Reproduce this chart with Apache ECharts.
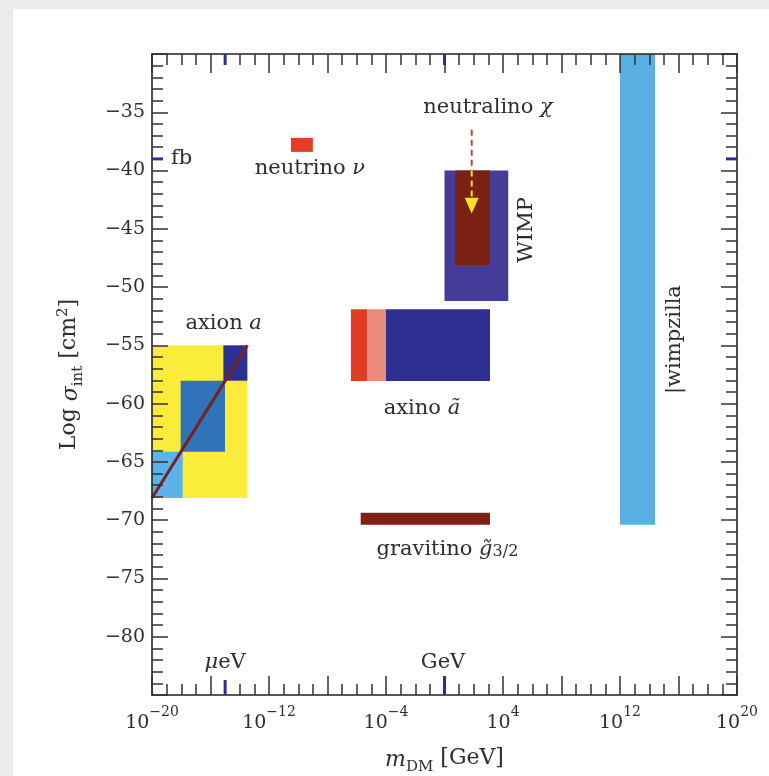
<!DOCTYPE html>
<html>
<head>
<meta charset="utf-8">
<script src="https://cdn.jsdelivr.net/npm/echarts@6/dist/echarts.min.js"></script>
<style>
html,body{margin:0;padding:0;background:#ebebea;}
#chart{position:absolute;left:0;top:0;width:769px;height:776px;}
</style>
</head>
<body>
<div id="chart"></div>
<script>
// ---------- data (log10 mass in GeV on x, log10 sigma in cm^2 on y) ----------
const rectNames = ['axion', 'axionMid', 'axionLow', 'axionHigh', 'neutrino', 'wimp', 'wimpCore',
                   'axinoA', 'axinoB', 'axinoC', 'gravitino', 'wimpzilla'];
const rectXMin  = [-20,    -18.04, -20,    -15.12, -10.5,  0.0,   0.72,  -6.4,  -5.3,  -4.0,  -5.73, 12.0];
const rectXMax  = [-13.48, -15.01, -17.9,  -13.48, -9.0,   4.36,  3.11,  -5.3,  -4.0,   3.11,  3.11, 14.4];
const rectYMin  = [-68.1,  -64.12, -68.1,  -58.03, -38.4, -51.2, -48.1, -58.06, -58.06, -58.06, -70.4, -70.4];
const rectYMax  = [-55.0,  -58.03, -64.12, -55.0,  -37.2, -40.0, -40.0, -51.9, -51.9, -51.9, -69.36, -30];

const axionLineX = [-20, -13.48];
const axionLineY = [-68.1, -55.0];

const arrowX = 1.86;
const arrowYStart = -36.5;
const arrowYEnd = -43.7;

const xSpecialTicks = [-15, 0];   // μeV, GeV
const ySpecialTicks = [-39];      // fb

const xLabelExps = [-20, -12, -4, 4, 12, 20];
const yLabelValues = [-35, -40, -45, -50, -55, -60, -65, -70, -75, -80];

const noteText = ['fb', 'neutrino {i|ν}', 'neutralino {i|χ}', 'WIMP', 'axion {i|a}', 'axino {i|ã}',
                  'gravitino {i|g̃}{sub|3/2}', '|wimpzilla', '{i|μ}eV', 'GeV'];
const noteX = [-18.7, -9.2, 2.97, 5.64, -15.1, -1.54, 0.2, 15.7, -15.0, -0.1];
const noteY = [-39.0, -39.8, -34.6, -45.1, -53.1, -60.4, -72.5, -54.5, -82.2, -82.2];

// ---------- styles ----------
const rectColors = {
  axion: '#fbeb3a', axionMid: '#2f74b8', axionLow: '#5cb3ea', axionHigh: '#2b2f8f',
  neutrino: '#e23d25', wimp: '#463b97', wimpCore: '#7a2113',
  axinoA: '#e03c24', axinoB: '#e98a7f', axinoC: '#2c2f8f', gravitino: '#7a2213', wimpzilla: '#5aafe2'
};
const noteAlign = ['left', 'center', 'center', 'center', 'center', 'center', 'center', 'center', 'center', 'center'];
const noteRot = [0, 0, 0, Math.PI / 2, 0, 0, 0, Math.PI / 2, 0, 0];

const FONT = '"DejaVu Serif", "Liberation Serif", serif';
const TXT = '#2e2e2e';
const NOTE_SIZE = 21;
const richBase = {
  i: { fontFamily: FONT, fontSize: NOTE_SIZE, fontStyle: 'italic', fill: TXT, color: TXT },
  sub: { fontFamily: FONT, fontSize: 16, fill: TXT, color: TXT, verticalAlign: 'bottom', lineHeight: 12, padding: [9, 0, 0, 0] }
};

const chart = echarts.init(document.getElementById('chart'), null, { renderer: 'canvas' });

const tickLine = { color: '#333', width: 1.5 };
function makeX(pos, labels) {
  return {
    type: 'value', min: -20, max: 20, interval: 4, position: pos, z: 10,
    axisLine: { show: true, onZero: false, lineStyle: { color: '#222', width: 1.6 } },
    axisTick: { show: true, inside: true, length: 19, lineStyle: tickLine },
    minorTick: { show: true, splitNumber: 4, length: 11, lineStyle: tickLine },
    splitLine: { show: false },
    axisLabel: labels ? {
      show: true, margin: 10,
      formatter: v => xLabelExps.includes(v) ? '{b|10}{s|' + (v < 0 ? '−' + Math.abs(v) : v) + '}' : '',
      rich: {
        b: { fontFamily: FONT, fontSize: 19, color: TXT, lineHeight: 28, verticalAlign: 'bottom' },
        s: { fontFamily: FONT, fontSize: 14, color: TXT, lineHeight: 28, verticalAlign: 'top' }
      }
    } : { show: false },
    name: labels ? '{i|m}{sub|DM} [GeV]' : '',
    nameLocation: 'middle', nameGap: 50,
    nameTextStyle: {
      fontFamily: FONT, fontSize: 22, color: TXT,
      rich: {
        i: { fontFamily: FONT, fontSize: 22, fontStyle: 'italic', color: TXT, lineHeight: 26, verticalAlign: 'bottom' },
        sub: { fontFamily: FONT, fontSize: 15, color: TXT, lineHeight: 26, verticalAlign: 'bottom', padding: [0, 0, -4, 0] }
      }
    }
  };
}
function makeY(pos, labels) {
  return {
    type: 'value', min: -85, max: -30, interval: 5, position: pos, z: 10,
    axisLine: { show: true, onZero: false, lineStyle: { color: '#222', width: 1.6 } },
    axisTick: { show: true, inside: true, length: 16, lineStyle: tickLine },
    minorTick: { show: true, splitNumber: 5, length: 11, lineStyle: tickLine },
    splitLine: { show: false },
    axisLabel: labels ? {
      show: true, margin: 7, fontFamily: FONT, fontSize: 19, color: TXT,
      formatter: v => yLabelValues.includes(v) ? '−' + Math.abs(v) : ''
    } : { show: false },
    name: labels ? 'Log {i|σ}{sub|int} [cm{sup|2}]' : '',
    nameLocation: 'middle', nameGap: 70, nameRotate: 90,
    nameTextStyle: {
      fontFamily: FONT, fontSize: 22, color: TXT,
      rich: {
        i: { fontFamily: FONT, fontSize: 22, fontStyle: 'italic', color: TXT, lineHeight: 26, verticalAlign: 'bottom' },
        sub: { fontFamily: FONT, fontSize: 15, color: TXT, lineHeight: 26, verticalAlign: 'bottom', padding: [0, 0, -4, 0] },
        sup: { fontFamily: FONT, fontSize: 15, color: TXT, lineHeight: 26, verticalAlign: 'top' }
      }
    }
  };
}

const rectData = rectNames.map((n, i) => [rectXMin[i], rectXMax[i], rectYMin[i], rectYMax[i], i]);

const option = {
  backgroundColor: '#ebebea',
  animation: false,
  graphic: [{ type: 'rect', shape: { x: 13, y: 9, width: 760, height: 770 }, style: { fill: '#fff' }, z: -10 }],
  grid: { left: 152, right: 32, top: 54, bottom: 81, containLabel: false, outerBoundsMode: 'none' },
  xAxis: [makeX('bottom', true), makeX('top', false)],
  yAxis: [makeY('left', true), makeY('right', false)],
  series: [
    {
      type: 'custom', xAxisIndex: 0, yAxisIndex: 0, silent: true, z: 2,
      data: rectData,
      encode: { x: [0, 1], y: [2, 3] },
      renderItem: (params, api) => {
        const p0 = api.coord([api.value(0), api.value(3)]);
        const p1 = api.coord([api.value(1), api.value(2)]);
        const name = rectNames[api.value(4)];
        return { type: 'rect', shape: { x: p0[0], y: p0[1], width: p1[0] - p0[0], height: p1[1] - p0[1] },
                 style: { fill: rectColors[name] } };
      }
    },
    {
      type: 'line', xAxisIndex: 0, yAxisIndex: 0, silent: true, z: 3, symbol: 'none',
      data: axionLineX.map((x, i) => [x, axionLineY[i]]),
      lineStyle: { color: '#7a2020', width: 3 }
    },
    {
      type: 'custom', xAxisIndex: 0, yAxisIndex: 0, silent: true, z: 4,
      data: [[arrowX, arrowYStart, arrowYEnd]],
      renderItem: (params, api) => {
        const boxTop = rectYMax[rectNames.indexOf('wimp')];
        const a = api.coord([api.value(0), api.value(1)]);
        const b = api.coord([api.value(0), boxTop]);
        const tip = api.coord([api.value(0), api.value(2)]);
        const headH = 16, headW = 7;
        return { type: 'group', children: [
          { type: 'line', shape: { x1: a[0], y1: a[1], x2: b[0], y2: b[1] },
            style: { stroke: '#b04a3c', lineWidth: 2, lineDash: [6, 4] } },
          { type: 'line', shape: { x1: b[0], y1: b[1], x2: tip[0], y2: tip[1] - headH },
            style: { stroke: '#f5e22a', lineWidth: 2, lineDash: [6, 4] } },
          { type: 'polygon', shape: { points: [[tip[0] - headW, tip[1] - headH], [tip[0] + headW, tip[1] - headH], [tip[0], tip[1]]] },
            style: { fill: '#f5e22a' } }
        ] };
      }
    },
    {
      type: 'custom', xAxisIndex: 0, yAxisIndex: 0, silent: true, z: 50,
      data: xSpecialTicks.map(v => [v]).concat(ySpecialTicks.map(v => [null, v])),
      renderItem: (params, api) => {
        const style = { stroke: '#2b2f9a', lineWidth: 3 };
        if (params.dataIndex < xSpecialTicks.length) {
          const v = xSpecialTicks[params.dataIndex];
          const bot = api.coord([v, -85]), top = api.coord([v, -30]);
          const botLen = v === 0 ? 19 : 15;
          return { type: 'group', children: [
            { type: 'line', shape: { x1: bot[0], y1: bot[1], x2: bot[0], y2: bot[1] - botLen }, style },
            { type: 'line', shape: { x1: top[0], y1: top[1], x2: top[0], y2: top[1] + 11 }, style }
          ] };
        }
        const v = ySpecialTicks[params.dataIndex - xSpecialTicks.length];
        const l = api.coord([-20, v]), r = api.coord([20, v]);
        return { type: 'group', children: [
          { type: 'line', shape: { x1: l[0], y1: l[1], x2: l[0] + 11, y2: l[1] }, style },
          { type: 'line', shape: { x1: r[0], y1: r[1], x2: r[0] - 11, y2: r[1] }, style }
        ] };
      }
    },
    {
      type: 'custom', xAxisIndex: 0, yAxisIndex: 0, silent: true, z: 60,
      data: noteText.map((t, i) => [noteX[i], noteY[i], i]),
      renderItem: (params, api) => {
        const i = api.value(2);
        const p = api.coord([api.value(0), api.value(1)]);
        return { type: 'text', x: p[0], y: p[1], rotation: noteRot[i],
          style: { text: noteText[i], fontFamily: FONT, fontSize: NOTE_SIZE, fill: TXT,
                   align: noteAlign[i], verticalAlign: 'middle', rich: richBase } };
      }
    }
  ]
};
chart.setOption(option);
</script>
</body>
</html>
